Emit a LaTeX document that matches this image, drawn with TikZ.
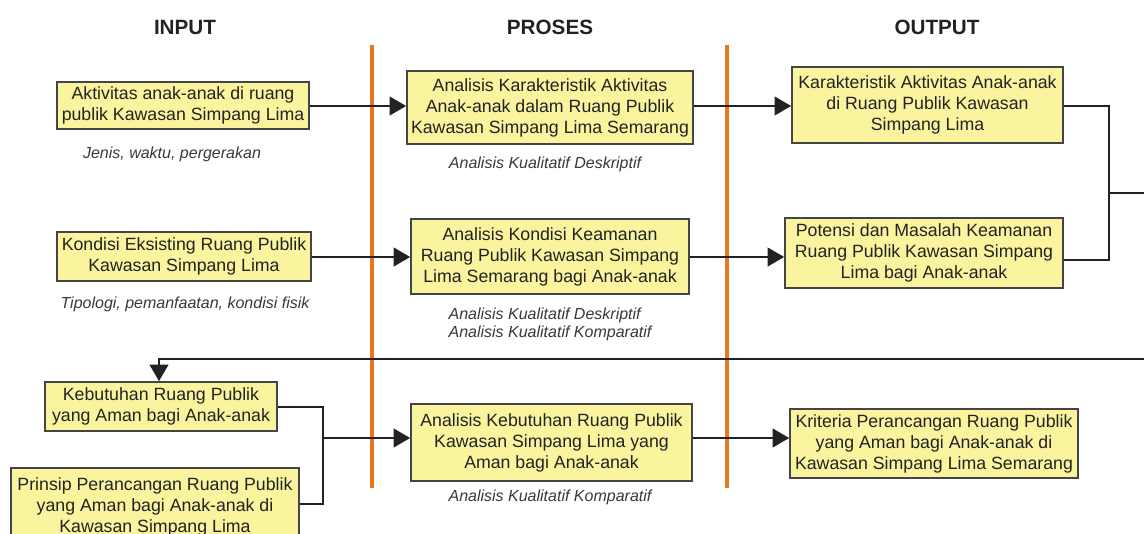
\documentclass[tikz,border=0pt]{standalone}
\usepackage{fontspec}
\setmainfont{Liberation Sans}
\usetikzlibrary{arrows.meta}
\definecolor{boxfill}{HTML}{FBF49E}
\definecolor{boxline}{HTML}{454545}
\definecolor{txt}{HTML}{222222}
\definecolor{sep}{HTML}{E8781E}
\tikzset{
  stepbox/.style={draw=boxline, line width=1.2pt, fill=boxfill, align=center, inner sep=0pt,
    text=txt, font=\fontsize{13.3}{15.75}\selectfont},
  note/.style={text=txt!90, font=\fontsize{12}{13.5}\selectfont\itshape, inner sep=0pt},
  head/.style={text=txt, font=\fontsize{15.5}{17}\selectfont\bfseries, inner sep=0pt},
  conn/.style={draw=txt, line width=1.8pt},
  arr/.style={conn, -{Triangle[length=12.5pt,width=14pt]}},
  divider/.style={draw=sep, line width=3.4pt}
}
\begin{document}
\begin{tikzpicture}[x=0.75pt,y=-0.75pt]
\useasboundingbox (0,0) rectangle (1144,534);
\clip (0,0) rectangle (1144,534);
% headers
\node[head] (hin) at (185,27) {INPUT};
\node[head] (hpr) at (550,27) {PROSES};
\node[head] (hout) at (937,27) {OUTPUT};
% dividers
\coordinate (d1t) at (372,45); \coordinate (d1b) at (372,488);
\coordinate (d2t) at (727,45); \coordinate (d2b) at (727,488);
\draw[divider] (d1t) -- (d1b);
\draw[divider] (d2t) -- (d2b);
% input boxes
\node[stepbox, minimum width=189pt, minimum height=35.25pt] (A1) at (183,105.5) {Aktivitas anak-anak di ruang\\publik Kawasan Simpang Lima};
\node[stepbox, minimum width=190.5pt, minimum height=36.75pt] (A2) at (184,256.5) {Kondisi Eksisting Ruang Publik\\Kawasan Simpang Lima};
\node[stepbox, minimum width=174pt, minimum height=36.75pt] (B1) at (161,406.5) {Kebutuhan Ruang Publik\\yang Aman bagi Anak-anak};
\node[stepbox, minimum width=216pt, minimum height=57.75pt] (B2) at (155,506.5) {Prinsip Perancangan Ruang Publik\\yang Aman bagi Anak-anak di\\Kawasan Simpang Lima};
% notes
\node[note] (nA1) at (172,154) {Jenis, waktu, pergerakan};
\node[note] (nA2) at (185,304) {Tipologi, pemanfaatan, kondisi fisik};
% process boxes
\node[stepbox, minimum width=214.5pt, minimum height=54.75pt] (P1) at (550,107.5) {Analisis Karakteristik Aktivitas\\Anak-anak dalam Ruang Publik\\Kawasan Simpang Lima Semarang};
\node[stepbox, minimum width=208.5pt, minimum height=56.25pt] (P2) at (550,256.5) {Analisis Kondisi Keamanan\\Ruang Publik Kawasan Simpang\\Lima Semarang bagi Anak-anak};
\node[stepbox, minimum width=210.75pt, minimum height=57.75pt] (P3) at (551.5,442.5) {Analisis Kebutuhan Ruang Publik\\Kawasan Simpang Lima yang\\Aman bagi Anak-anak};
\node[note] (nP1) at (545,164) {Analisis Kualitatif Deskriptif};
\node[note, align=left] (nP2) at (550,324) {Analisis Kualitatif Deskriptif\\Analisis Kualitatif Komparatif};
\node[note] (nP3) at (550,497) {Analisis Kualitatif Komparatif};
% output boxes
\node[stepbox, minimum width=203.25pt, minimum height=57pt] (O1) at (927.5,105) {Karakteristik Aktivitas Anak-anak\\di Ruang Publik Kawasan\\Simpang Lima};
\node[stepbox, minimum width=208.5pt, minimum height=52.5pt] (O2) at (924,253) {Potensi dan Masalah Keamanan\\Ruang Publik Kawasan Simpang\\Lima bagi Anak-anak};
\node[stepbox, minimum width=216pt, minimum height=51.75pt] (O3) at (934,443.5) {Kriteria Perancangan Ruang Publik\\yang Aman bagi Anak-anak di\\Kawasan Simpang Lima Semarang};
% junction coordinates
\coordinate (y1) at (0,106);
\coordinate (y2) at (0,257);
\coordinate (jr) at (1109,193);
\coordinate (rout) at (1144,193);
\coordinate (rin) at (1144,359);
\coordinate (fb) at (159,359);
\coordinate (jl) at (323,438);
% connectors row 1 and 2
\draw[arr] (A1.east |- y1) -- (P1.west |- y1);
\draw[arr] (P1.east |- y1) -- (O1.west |- y1);
\draw[arr] (A2.east |- y2) -- (P2.west |- y2);
\draw[arr] (P2.east |- y2) -- (O2.west |- y2);
% right bracket
\draw[conn] (O1.east |- y1) -| (jr) |- (O2.east |- 0,260);
\draw[conn] (jr) -- (rout);
% feedback line
\draw[arr] (rin) -- (fb) -- (fb |- B1.north);
% left bracket
\draw[conn] (B1.east |- 0,407) -| (jl) |- (B2.east |- 0,504);
\draw[arr] (jl) -- (P3.west |- jl);
\draw[arr] (P3.east |- jl) -- (O3.west |- jl);
\end{tikzpicture}
\end{document}
